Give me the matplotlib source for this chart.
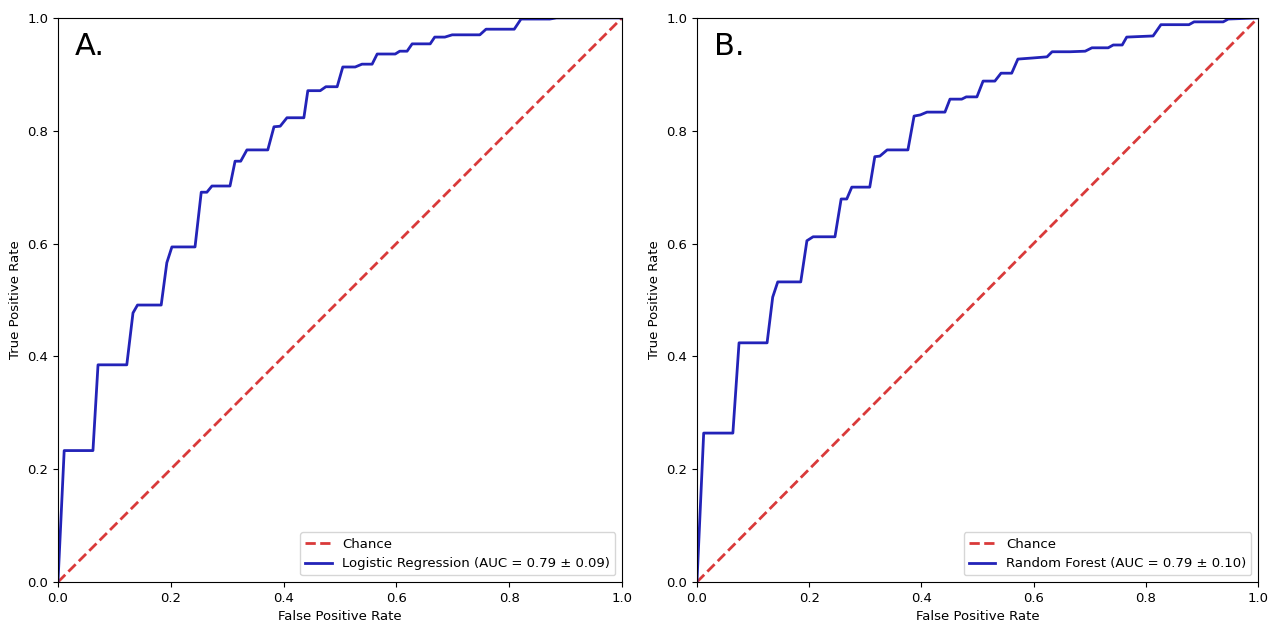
import matplotlib
matplotlib.use("Agg")
import matplotlib.pyplot as plt

# ROC curve points (FPR, TPR)
lr_fpr = [0.0, 0.011, 0.062, 0.071, 0.122, 0.133, 0.141, 0.183, 0.193, 0.202,
          0.243, 0.254, 0.264, 0.273, 0.305, 0.314, 0.324, 0.335, 0.372, 0.383,
          0.394, 0.406, 0.436, 0.443, 0.465, 0.475, 0.495, 0.505, 0.527, 0.539,
          0.557, 0.566, 0.598, 0.606, 0.619, 0.628, 0.660, 0.668, 0.686, 0.699,
          0.748, 0.759, 0.809, 0.821, 0.872, 0.884, 1.0]
lr_tpr = [0.0, 0.233, 0.233, 0.385, 0.385, 0.477, 0.491, 0.491, 0.566, 0.594,
          0.594, 0.691, 0.691, 0.702, 0.702, 0.746, 0.746, 0.766, 0.766, 0.807,
          0.808, 0.823, 0.823, 0.871, 0.871, 0.878, 0.878, 0.913, 0.913, 0.918,
          0.918, 0.936, 0.936, 0.941, 0.941, 0.954, 0.954, 0.966, 0.966, 0.970,
          0.970, 0.980, 0.980, 0.998, 0.998, 1.0, 1.0]

rf_fpr = [0.0, 0.012, 0.064, 0.075, 0.125, 0.135, 0.144, 0.185, 0.196, 0.207,
          0.246, 0.257, 0.267, 0.276, 0.308, 0.317, 0.326, 0.339, 0.376, 0.387,
          0.398, 0.410, 0.442, 0.451, 0.472, 0.480, 0.499, 0.510, 0.531, 0.542,
          0.561, 0.572, 0.599, 0.624, 0.633, 0.665, 0.692, 0.704, 0.733, 0.742,
          0.758, 0.766, 0.813, 0.827, 0.877, 0.886, 0.938, 0.947, 1.0]
rf_tpr = [0.0, 0.264, 0.264, 0.424, 0.424, 0.505, 0.532, 0.532, 0.605, 0.612,
          0.612, 0.679, 0.679, 0.700, 0.700, 0.754, 0.755, 0.766, 0.766, 0.826,
          0.828, 0.833, 0.833, 0.856, 0.856, 0.860, 0.860, 0.888, 0.888, 0.902,
          0.902, 0.927, 0.929, 0.931, 0.940, 0.940, 0.941, 0.947, 0.947, 0.952,
          0.952, 0.966, 0.968, 0.988, 0.988, 0.993, 0.993, 0.998, 1.0]

panels = [
    ("A.", lr_fpr, lr_tpr, "Logistic Regression (AUC = 0.79 \u00b1 0.09)"),
    ("B.", rf_fpr, rf_tpr, "Random Forest (AUC = 0.79 \u00b1 0.10)"),
]
ticks = [0.0, 0.2, 0.4, 0.6, 0.8, 1.0]

fig = plt.figure(figsize=(12.8, 6.24), dpi=100)
lefts = [0.0453, 0.5445]
widths = [0.4406, 0.4383]

for (tag, fpr, tpr, label), left, w in zip(panels, lefts, widths):
    ax = fig.add_axes([left, 0.0673, w, 0.904])
    ax.plot([0, 1], [0, 1], linestyle="--", color="#d93a3a", lw=2, label="Chance")
    ax.plot(fpr, tpr, color="#2323b8", lw=2, label=label)
    ax.set_xlim(0, 1)
    ax.set_ylim(0, 1)
    ax.set_xticks(ticks)
    ax.set_yticks(ticks)
    ax.tick_params(labelsize=9.5)
    ax.set_xlabel("False Positive Rate", fontsize=9.5)
    ax.set_ylabel("True Positive Rate", fontsize=9.5)
    ax.text(0.03, 0.975, tag, transform=ax.transAxes, fontsize=22,
            va="top", ha="left")
    ax.legend(loc="lower right", fontsize=9.5)

plt.savefig("out.png", dpi=100)
